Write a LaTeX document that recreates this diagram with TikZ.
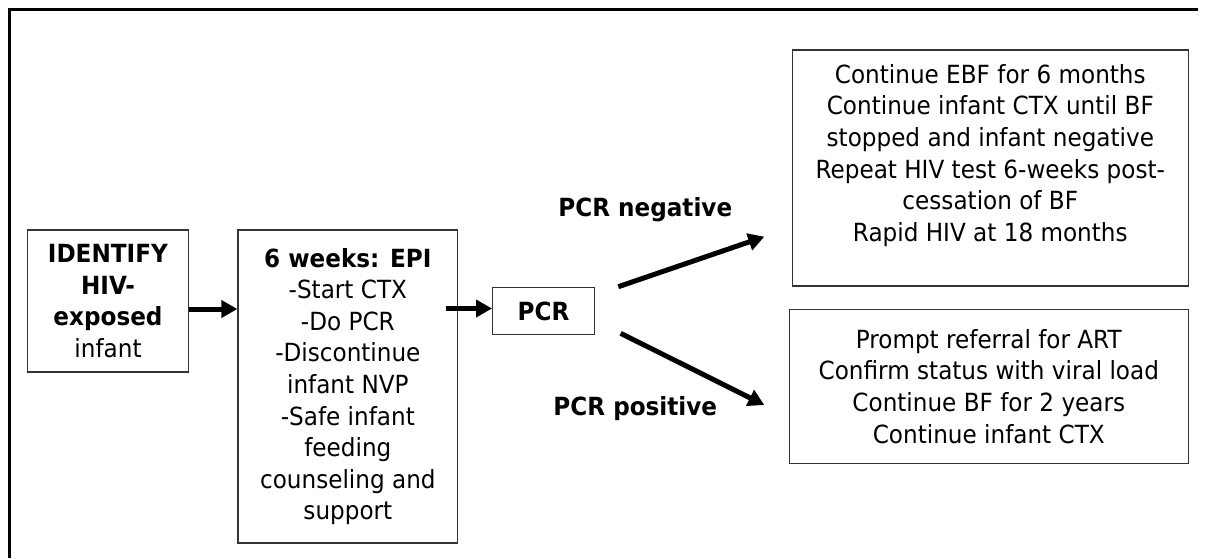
\documentclass[tikz,border=0pt]{standalone}
\usepackage{fontspec}
\setmainfont{DejaVu Sans}[FakeStretch=0.925]
\usetikzlibrary{arrows.meta}
\begin{document}
\begin{tikzpicture}[x=1pt,y=-1pt,
  txt/.style={font=\fontsize{25}{31.6}\selectfont, align=center, inner sep=0pt},
  box/.style={txt, draw=black!80, line width=1.3pt},
  lbl/.style={font=\fontsize{25}{31.6}\selectfont\bfseries, inner sep=0pt},
  arr/.style={line width=5pt, -{Triangle[length=16pt,width=17pt]}}]
\path[use as bounding box, fill=white] (0,0) rectangle (1208,558);
\draw[line width=2.7pt] (1198,9.3) -- (9.3,9.3) -- (9.3,558);

\node[box, minimum width=160.6pt, minimum height=142pt] (b1) at (108,301)
  {\textbf{IDENTIFY}\\\textbf{HIV-}\\\textbf{exposed}\\infant};
\node[box, minimum width=219.7pt, minimum height=313pt] (b2) at (347.85,386.5)
  {\textbf{6 weeks: EPI}\\-Start CTX\\-Do PCR\\-Discontinue\\infant NVP\\-Safe infant\\feeding\\counseling and\\support};
\node[box, minimum width=101.6pt, minimum height=46.6pt] (pcr) at (543.5,311) {\textbf{PCR}};
\node[box, minimum width=396pt, minimum height=236pt] (neg) at (990.3,168) {};
\node[txt, anchor=north] (negtxt) at (990.3,64)
  {Continue EBF for 6 months\\Continue infant CTX until BF\\stopped and infant negative\\Repeat HIV test 6-weeks post-\\cessation of BF\\Rapid HIV at 18 months};
\node[box, minimum width=399pt, minimum height=154pt] (pos) at (988.8,386.3)
  {Prompt referral for ART\\Confirm status with viral load\\Continue BF for 2 years\\Continue infant CTX};
\node[lbl, anchor=base] (ln) at (645.3,216.7) {PCR negative};
\node[lbl, anchor=base] (lp) at (635.3,415) {PCR positive};

\coordinate (a1s) at ([yshift=-8pt]b1.east);
\draw[arr] (a1s) -- (a1s -| b2.west);
\coordinate (a2e) at ([yshift=2.5pt]pcr.west);
\draw[arr] ([xshift=-12.7pt]b2.east |- a2e) -- (a2e);
\draw[arr] ([shift={(23.4pt,24.3pt)}]pcr.east) -- ([shift={(-27.3pt,-68.7pt)}]neg.west);
\draw[arr] ([shift={(25.7pt,-22.3pt)}]pcr.east) -- ([shift={(-24.3pt,-18.7pt)}]pos.west);
\end{tikzpicture}
\end{document}
